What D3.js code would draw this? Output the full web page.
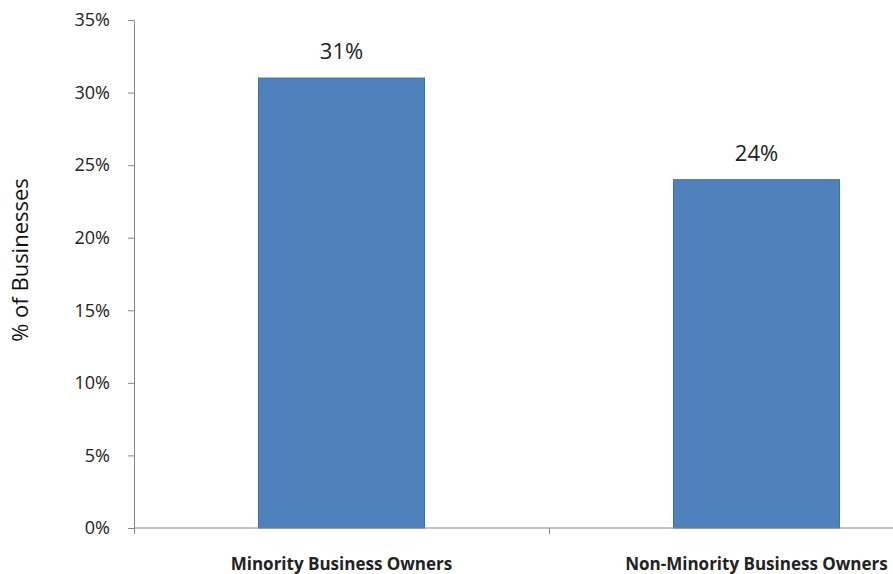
<!DOCTYPE html>
<html>
<head>
<meta charset="utf-8">
<script src="https://cdn.jsdelivr.net/npm/d3@7"></script>
<style>
  body { margin: 0; background: #fff; }
  svg { display: block; font-family: "Open Sans", "Noto Sans", sans-serif; }
</style>
</head>
<body>
<div id="chart"></div>
<script>
const categories = ["Minority Business Owners", "Non-Minority Business Owners"];
const values = [31, 24];
const yTicks = [0, 5, 10, 15, 20, 25, 30, 35];

const width = 893, height = 574;
const margin = { top: 20, left: 134, bottom: 46 };
const plotRight = 964; // axis runs past the window edge

const svg = d3.select('#chart').append('svg')
  .attr('width', width)
  .attr('height', height);

const x = d3.scaleBand()
  .domain(categories)
  .range([margin.left, plotRight])
  .padding(0);

const y = d3.scaleLinear()
  .domain([0, 35])
  .range([height - margin.bottom, margin.top]);

const axisColor = '#868686';

// bars
const barW = x.bandwidth() * 0.4;
svg.selectAll('rect.bar').data(categories)
  .enter().append('rect')
  .attr('class', 'bar')
  .attr('x', d => x(d) + (x.bandwidth() - barW) / 2)
  .attr('y', (d, i) => y(values[i]))
  .attr('width', barW)
  .attr('height', (d, i) => y(0) - y(values[i]))
  .attr('fill', '#4F81BD')
  .attr('stroke', '#3F6FA8')
  .attr('stroke-width', 1);

// value labels
svg.selectAll('text.val').data(categories)
  .enter().append('text')
  .attr('class', 'val')
  .attr('x', d => x(d) + x.bandwidth() / 2)
  .attr('y', (d, i) => y(values[i]) - 19)
  .attr('text-anchor', 'middle')
  .attr('font-size', 22)
  .attr('fill', '#222')
  .text((d, i) => values[i] + '%');

// y axis
const yAxis = d3.axisLeft(y)
  .tickValues(yTicks)
  .tickFormat(d => d + '%')
  .tickSize(6)
  .tickPadding(18);

const yG = svg.append('g')
  .attr('transform', `translate(${margin.left},0)`)
  .call(yAxis);
yG.select('.domain').attr('stroke', axisColor);
yG.selectAll('.tick line').attr('stroke', axisColor);
yG.selectAll('.tick text')
  .attr('font-size', 18)
  .attr('fill', '#222')
  .attr('font-family', '"Open Sans", sans-serif');

// x axis: line plus ticks at band boundaries
const xG = svg.append('g');
xG.append('line')
  .attr('x1', margin.left).attr('x2', plotRight)
  .attr('y1', y(0)).attr('y2', y(0))
  .attr('stroke', axisColor);
xG.selectAll('line.tk').data(categories)
  .enter().append('line')
  .attr('class', 'tk')
  .attr('x1', d => x(d) + 0.5).attr('x2', d => x(d) + 0.5)
  .attr('y1', y(0)).attr('y2', y(0) + 6)
  .attr('stroke', axisColor);
xG.selectAll('text.cat').data(categories)
  .enter().append('text')
  .attr('class', 'cat')
  .attr('x', d => x(d) + x.bandwidth() / 2)
  .attr('y', y(0) + 42)
  .attr('text-anchor', 'middle')
  .attr('font-size', 17)
  .attr('font-weight', 'bold')
  .attr('fill', '#222')
  .text(d => d);

// y axis title
svg.append('text')
  .attr('transform', `translate(28,260) rotate(-90)`)
  .attr('text-anchor', 'middle')
  .attr('font-size', 22)
  .attr('fill', '#111')
  .text('% of Businesses');
</script>
</body>
</html>
